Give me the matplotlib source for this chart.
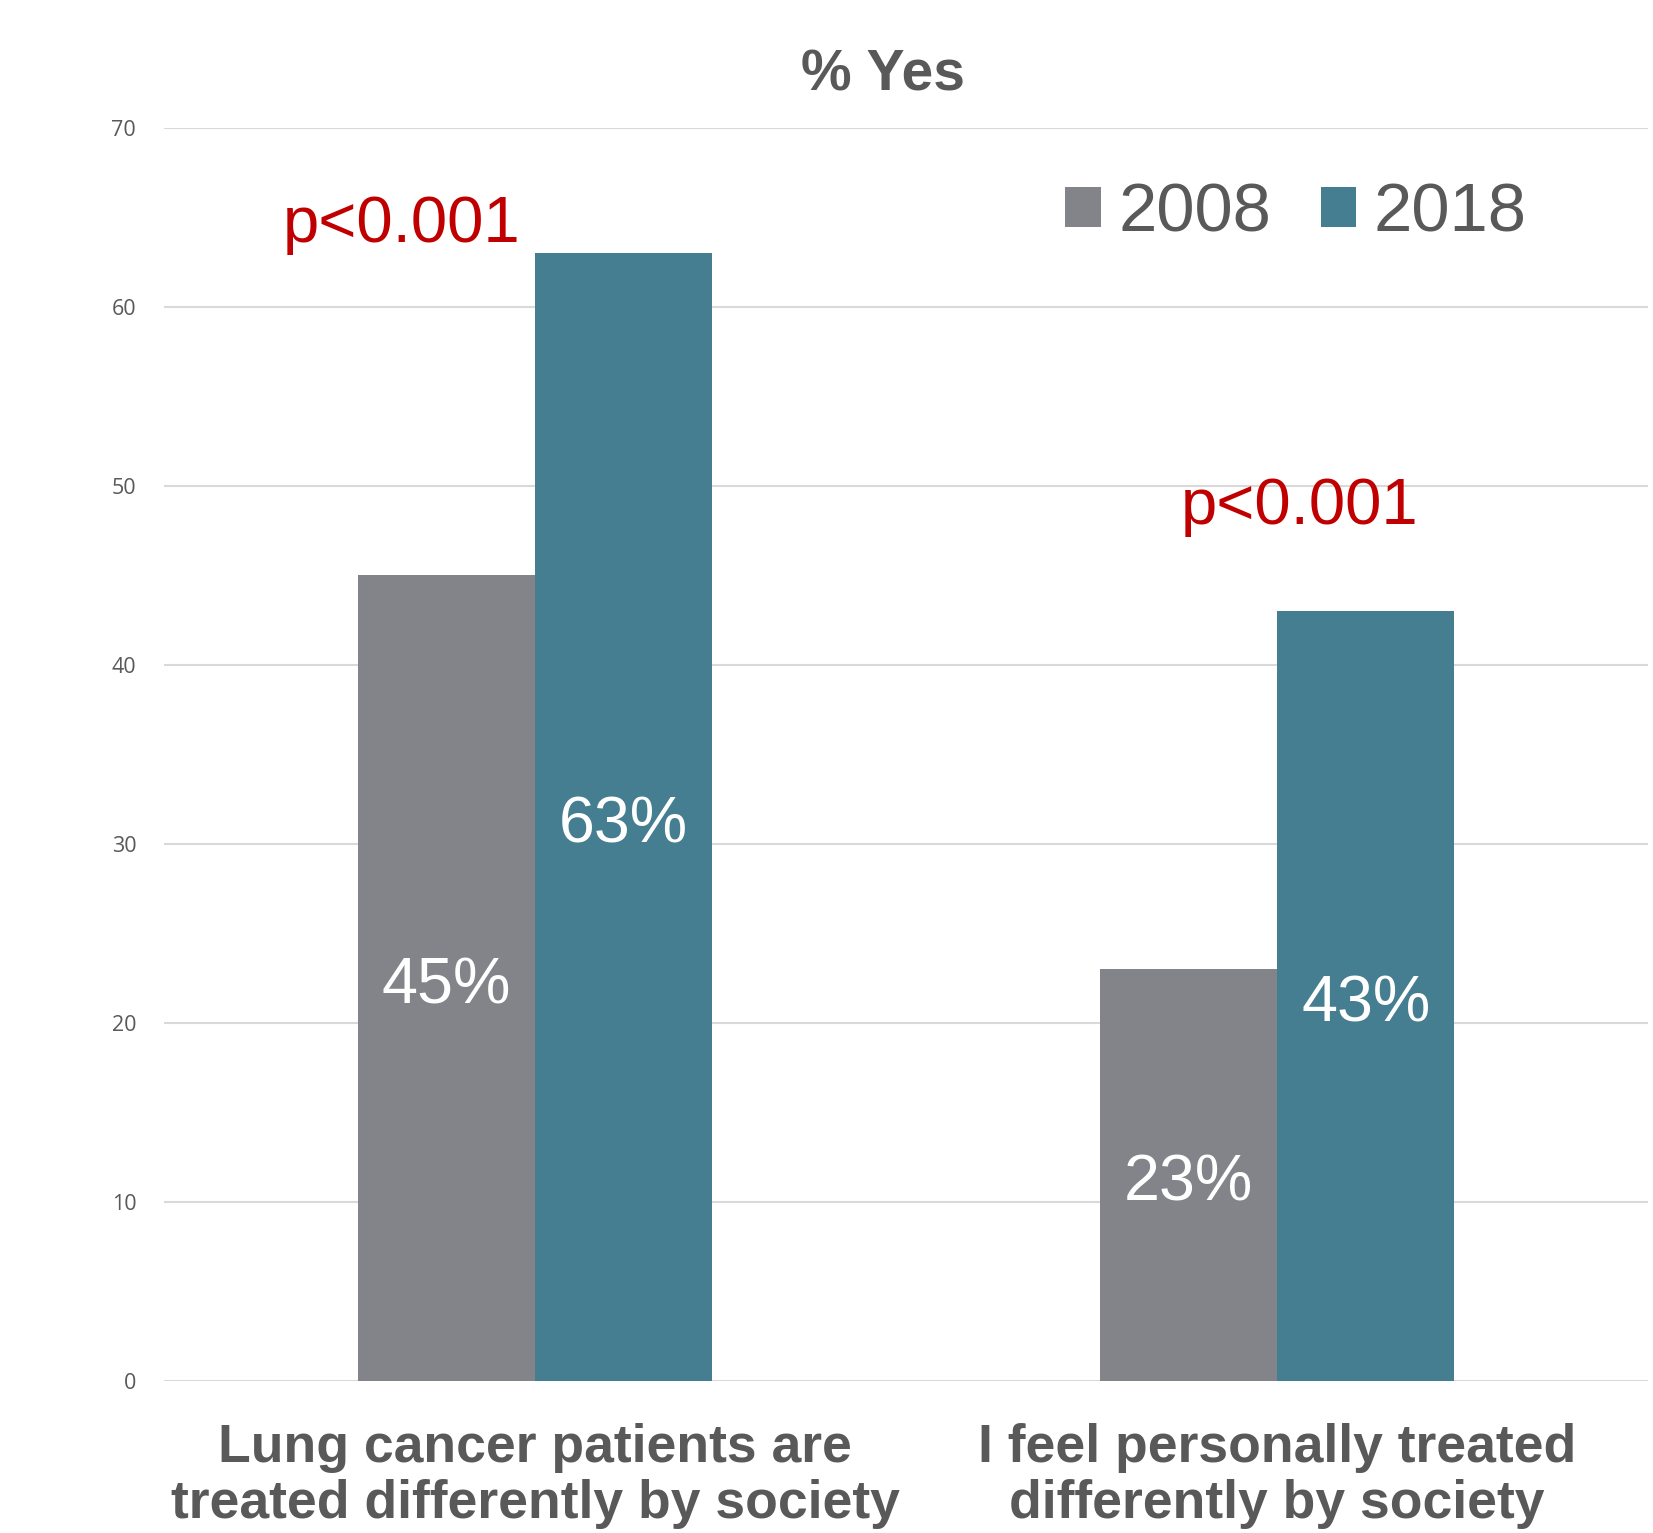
import matplotlib.pyplot as plt
import numpy as np

categories = ["Lung cancer patients are\ntreated differently by society",
              "I feel personally treated\ndifferently by society"]
years = ["2008", "2018"]
vals_2008 = [45, 23]
vals_2018 = [63, 43]
pvals = ["p<0.001", "p<0.001"]
pval_pos = [(-0.18, 64.6), (1.03, 48.8)]

c_2008 = "#838489"
c_2018 = "#457E91"
txt = "#595959"
red = "#C00000"

plt.rcParams['font.family'] = ['Liberation Sans', 'DejaVu Sans']

fig = plt.figure(figsize=(16.53, 15.33), dpi=100)
ax = fig.add_axes([0.0992, 0.0992, 0.8978, 0.8173])

x = np.arange(len(categories))
w = 0.239
b1 = ax.bar(x - w/2, vals_2008, w, color=c_2008, label=years[0], zorder=2)
b2 = ax.bar(x + w/2, vals_2018, w, color=c_2018, label=years[1], zorder=2)

# value labels in the middle of each bar
for xs, vs in [(x - w/2, vals_2008), (x + w/2, vals_2018)]:
    for xi, v in zip(xs, vs):
        ax.annotate(f"{v}%", (xi, v / 2), xytext=(0, -6),
                    textcoords='offset points', ha='center', va='center',
                    color='white', fontsize=46.5)

for (px, py), s in zip(pval_pos, pvals):
    ax.text(px, py, s, color=red, fontsize=47, ha='center', va='center')

ax.set_xlim(-0.5, 1.5)
ax.set_ylim(0, 70)
ax.set_yticks(np.arange(0, 71, 10))
ax.yaxis.grid(True, color='#D9D9D9', linewidth=1.5, zorder=0)
ax.set_axisbelow(True)
for s in ax.spines.values():
    s.set_visible(False)
ax.tick_params(axis='y', length=0, pad=20, labelsize=15.5, labelcolor=txt)
for lbl in ax.get_yticklabels():
    lbl.set_family(['Open Sans', 'DejaVu Sans'])
ax.set_xticks(x)
ax.set_xticklabels(categories, fontsize=38.5, fontweight='bold', color=txt,
                   linespacing=1.17)
ax.tick_params(axis='x', length=0, pad=30)

fig.text(0.534, 0.951, "% Yes", fontsize=41, fontweight='bold', color=txt,
         ha='center', va='center')

leg = ax.legend(loc='center', bbox_to_anchor=(0.784, 0.861),
                bbox_transform=fig.transFigure, ncol=2, frameon=False,
                fontsize=49.5, handlelength=0.52, handleheight=0.52,
                handletextpad=0.25, columnspacing=0.72)
for t in leg.get_texts():
    t.set_color(txt)

fig.savefig("out.png", dpi=100)
